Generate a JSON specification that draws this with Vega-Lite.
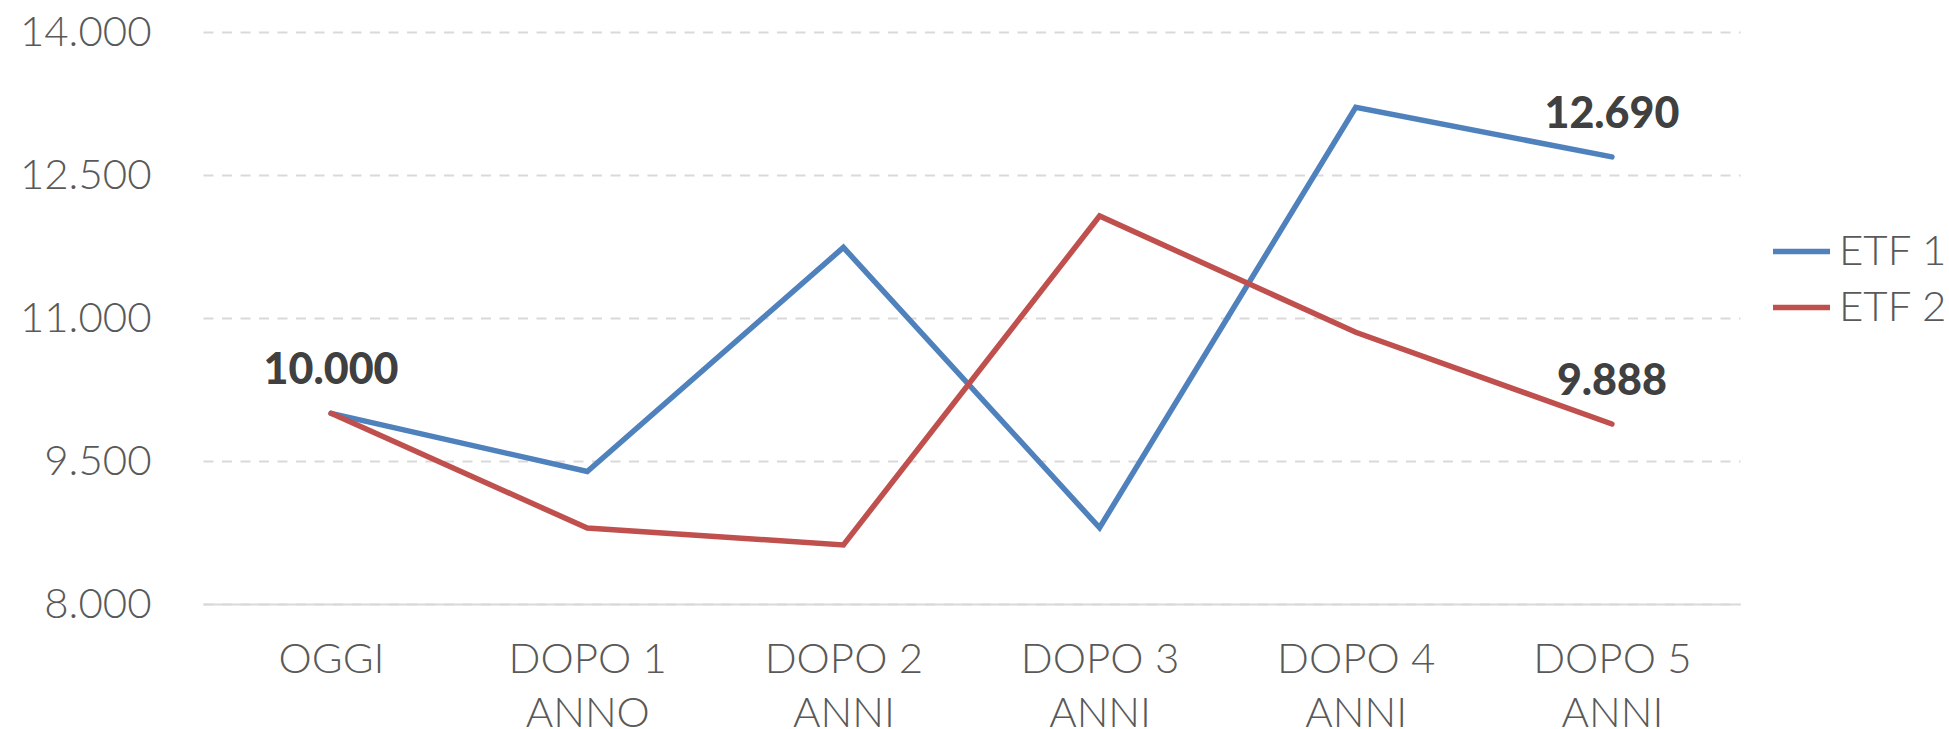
{
  "$schema": "https://vega.github.io/schema/vega-lite/v6.json",
  "width": 1537,
  "height": 572,
  "autosize": "none",
  "padding": {"left": 203, "top": 32, "right": 209, "bottom": 125},
  "background": "white",
  "config": {
    "view": {"stroke": null},
    "font": "Lato",
    "locale": {"number": {"decimal": ",", "thousands": ".", "grouping": [3], "currency": ["€", ""]}}
  },
  "data": {
    "values": [
      {"t": "OGGI", "s": "ETF 1", "v": 10000},
      {"t": "DOPO 1|ANNO", "s": "ETF 1", "v": 9390},
      {"t": "DOPO 2|ANNI", "s": "ETF 1", "v": 11740},
      {"t": "DOPO 3|ANNI", "s": "ETF 1", "v": 8800},
      {"t": "DOPO 4|ANNI", "s": "ETF 1", "v": 13210},
      {"t": "DOPO 5|ANNI", "s": "ETF 1", "v": 12690},
      {"t": "OGGI", "s": "ETF 2", "v": 10000},
      {"t": "DOPO 1|ANNO", "s": "ETF 2", "v": 8797},
      {"t": "DOPO 2|ANNI", "s": "ETF 2", "v": 8620},
      {"t": "DOPO 3|ANNI", "s": "ETF 2", "v": 12070},
      {"t": "DOPO 4|ANNI", "s": "ETF 2", "v": 10850},
      {"t": "DOPO 5|ANNI", "s": "ETF 2", "v": 9888}
    ]
  },
  "encoding": {
    "x": {
      "field": "t",
      "type": "nominal",
      "sort": ["OGGI", "DOPO 1|ANNO", "DOPO 2|ANNI", "DOPO 3|ANNI", "DOPO 4|ANNI", "DOPO 5|ANNI"],
      "scale": {"type": "point", "padding": 0.5},
      "axis": {
        "title": null,
        "labelExpr": "split(datum.label, '|')",
        "labelAngle": 0,
        "labelFont": "Lato",
        "labelFontWeight": 300,
        "labelFontSize": 42,
        "labelColor": "#595959",
        "labelLineHeight": 54,
        "labelPadding": 35,
        "ticks": false,
        "grid": false,
        "domain": true,
        "domainColor": "#d9d9d9",
        "domainWidth": 2
      }
    },
    "y": {
      "field": "v",
      "type": "quantitative",
      "scale": {"domain": [8000, 14000], "nice": false, "zero": false},
      "axis": {
        "title": null,
        "values": [8000, 9500, 11000, 12500, 14000],
        "format": ",.0f",
        "labelFont": "Lato",
        "labelFontWeight": 300,
        "labelFontSize": 42,
        "labelColor": "#595959",
        "labelPadding": 52,
        "ticks": false,
        "domain": false,
        "grid": true,
        "gridColor": "#d9d9d9",
        "gridWidth": 2,
        "gridDash": [10, 8.5]
      }
    }
  },
  "layer": [
    {
      "mark": {"type": "line", "strokeWidth": 5.5, "strokeCap": "round", "strokeJoin": "miter"},
      "encoding": {
        "color": {
          "field": "s",
          "type": "nominal",
          "scale": {"domain": ["ETF 1", "ETF 2"], "range": ["#4F81BD", "#C0504D"]},
          "legend": {
            "title": null,
            "orient": "none",
            "legendX": 1567,
            "legendY": 188,
            "symbolType": "stroke",
            "symbolSize": 3249,
            "symbolStrokeWidth": 5.5,
            "labelOffset": 6,
            "labelFont": "Lato",
            "labelFontWeight": 300,
            "labelFontSize": 42,
            "labelColor": "#595959",
            "rowPadding": 3
          }
        }
      }
    },
    {
      "transform": [{"filter": "(datum.t == 'OGGI' && datum.s == 'ETF 1') || datum.t == 'DOPO 5|ANNI'"}],
      "mark": {"type": "text", "font": "Lato", "fontWeight": 900, "fontSize": 43, "color": "#404040", "baseline": "alphabetic", "dy": -29},
      "encoding": {
        "text": {"field": "v", "type": "quantitative", "format": ",.0f"}
      }
    }
  ]
}
